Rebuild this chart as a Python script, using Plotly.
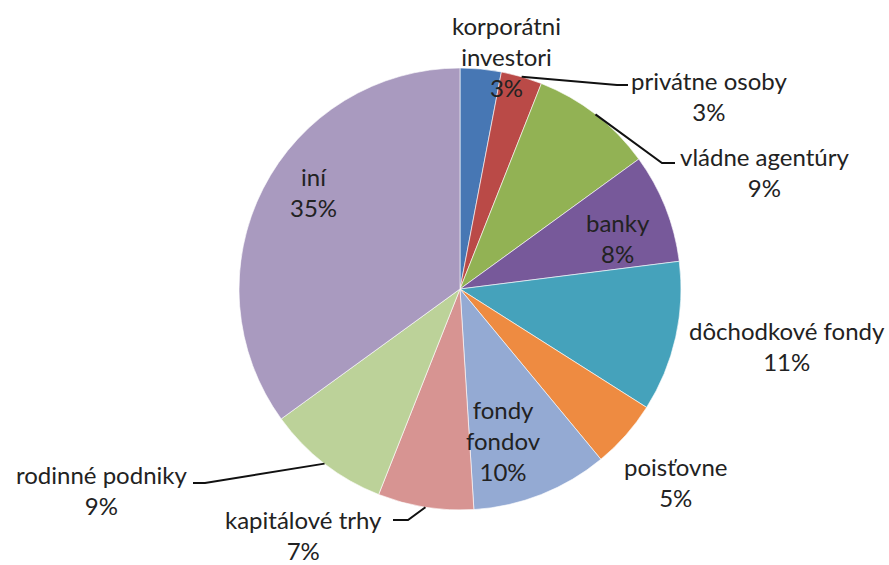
import math
import plotly.graph_objects as go

# ---- data ----
categories = ["korporátni investori", "privátne osoby", "vládne agentúry", "banky",
              "dôchodkové fondy", "poisťovne", "fondy fondov", "kapitálové trhy",
              "rodinné podniky", "iní"]
label_text = ["korporátni<br>investori", "privátne osoby", "vládne agentúry", "banky",
              "dôchodkové fondy", "poisťovne", "fondy<br>fondov", "kapitálové trhy",
              "rodinné podniky", "iní"]
values = [3, 3, 9, 8, 11, 5, 10, 7, 9, 35]
colors = ["#4777B4", "#BA4A47", "#92B254", "#77599A", "#45A2BB",
          "#EE8B41", "#94AAD3", "#D79492", "#BCD299", "#A99ABF"]

# ---- layout geometry (pixels) ----
W, H = 889, 565
cx, cy, r = 460, 289, 221
# label block centers (pixels) and leader line bends
label_pos = [(506, 57), (709, 96), (764, 172), (618, 238), (787, 346),
             (675, 482), (503, 441), (303, 535), (101, 490), (313, 192)]
leader_end = {1: [(617, 85), (628, 85)],
              2: [(662, 163), (675, 163)],
              7: [(408, 520), (393, 520)],
              8: [(205, 483), (193, 483)]}

fig = go.Figure(go.Pie(
    labels=categories, values=values, sort=False, direction="clockwise",
    rotation=0, textinfo="none", hoverinfo="label+percent",
    marker=dict(colors=colors, line=dict(color="rgba(255,255,255,0.6)", width=1)),
    domain=dict(x=[(cx - r) / W, (cx + r) / W], y=[(H - cy - r) / H, (H - cy + r) / H]),
    showlegend=False,
))

total = sum(values)
cum = 0
shapes = []
annotations = []
for i, v in enumerate(values):
    mid = (cum + v / 2) / total * 2 * math.pi
    cum += v
    pct = round(v / total * 100)
    lx, ly = label_pos[i]
    annotations.append(dict(
        x=lx / W, y=1 - ly / H, xref="paper", yref="paper",
        text=f"{label_text[i]}<br>{pct}%", showarrow=False,
        xanchor="center", yanchor="middle", align="center",
        font=dict(family="Lato, Carlito, Calibri, sans-serif", size=24, color="#222222"),
    ))
    if i in leader_end:
        sx = cx + r * math.sin(mid)
        sy = cy - r * math.cos(mid)
        pts = [(sx, sy)] + leader_end[i]
        path = "M " + " L ".join(f"{px / W},{1 - py / H}" for px, py in pts)
        shapes.append(dict(type="path", path=path, xref="paper", yref="paper",
                           line=dict(color="#111111", width=2)))

fig.update_layout(
    width=W, height=H, margin=dict(l=0, r=0, t=0, b=0),
    paper_bgcolor="white", plot_bgcolor="white",
    annotations=annotations, shapes=shapes,
)
fig.write_html("out.html")
